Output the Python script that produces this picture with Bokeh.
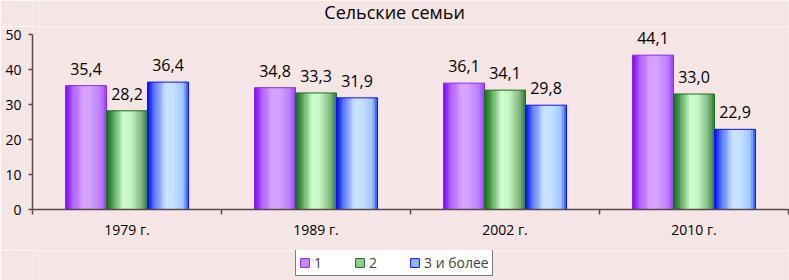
from bokeh.plotting import figure
from bokeh.layouts import column
from bokeh.models import (ColumnDataSource, Range1d, FixedTicker, LinearAxis,
                          Legend, LegendItem, Label)
from bokeh.core.properties import value
from bokeh.embed import file_html
from bokeh.resources import INLINE

# ---- data ----
title_text = "Сельские семьи"
categories = ["1979 г.", "1989 г.", "2002 г.", "2010 г."]
series_names = ["1", "2", "3 и более"]
s1 = [35.4, 34.8, 36.1, 44.1]
s2 = [28.2, 33.3, 34.1, 33.0]
s3 = [36.4, 31.9, 29.8, 22.9]
y_ticks = [0, 10, 20, 30, 40, 50]

# ---- styling ----
FONT = "Open Sans"
BG = "#f6e5e5"
AXIS = "#5a4848"
gradients = [
    [(0.0, "#7a00ff"), (0.18, "#ad5cff"), (0.45, "#d6a3ff"), (0.62, "#d2a0ff"), (0.88, "#b877ff"), (1.0, "#9a3cff")],
    [(0.0, "#0d6b0d"), (0.15, "#4a994a"), (0.42, "#ccffcc"), (0.6, "#c4f5c4"), (0.85, "#80b880"), (1.0, "#2f7f2f")],
    [(0.0, "#0000ff"), (0.15, "#4a6aff"), (0.45, "#c8e4ff"), (0.65, "#c2e0ff"), (0.88, "#9cc4ff"), (1.0, "#2a48ff")],
]
edges = ["#8a2be2", "#1a6e1a", "#1010ff"]
mids = ["#c488ff", "#90d090", "#90b8ff"]


def hex2rgb(h):
    h = h.lstrip("#")
    return tuple(int(h[i:i + 2], 16) for i in (0, 2, 4))


def interp(stops, t):
    for (p0, c0), (p1, c1) in zip(stops[:-1], stops[1:]):
        if p0 <= t <= p1:
            f = (t - p0) / (p1 - p0) if p1 > p0 else 0
            a, b = hex2rgb(c0), hex2rgb(c1)
            r = [round(a[i] + (b[i] - a[i]) * f) for i in range(3)]
            return "#%02x%02x%02x" % tuple(r)
    return stops[-1][1]


def bare(fig):
    fig.background_fill_color = BG
    fig.border_fill_color = BG
    fig.outline_line_color = None
    fig.grid.visible = False


BW = 0.217
N = 18
offsets = [-BW, 0.0, BW]
series = [s1, s2, s3]
W = 789
TOP_H, LEG_H, TOTAL_H = 26, 30, 280
PX_PER_UNIT = 3.5
MAIN_H = TOTAL_H - TOP_H - LEG_H
BOTTOM = 41
y_max = (MAIN_H - BOTTOM) / PX_PER_UNIT

# ---- title strip ----
tf = figure(width=W, height=TOP_H, output_backend="svg", toolbar_location=None,
            x_range=Range1d(0, 1), y_range=Range1d(0, 1),
            x_axis_type=None, y_axis_type=None,
            min_border_left=0, min_border_right=0, min_border_top=0, min_border_bottom=0)
bare(tf)
tf.add_layout(Label(x=0.479, y=0.54, text=title_text, text_align="center",
                    text_baseline="middle", text_font=FONT, text_font_size="18px",
                    text_color="black"))

# ---- main chart ----
p = figure(width=W, height=MAIN_H, output_backend="svg", toolbar_location=None,
           x_range=Range1d(0, 4), y_range=Range1d(0, y_max),
           x_axis_type=None, y_axis_type=None,
           min_border_left=32, min_border_right=1, min_border_top=0,
           min_border_bottom=BOTTOM)
bare(p)

# gradient strips
sx, stop, scol = [], [], []
for si, vals in enumerate(series):
    for ci, v in enumerate(vals):
        center = ci + 0.5 + offsets[si]
        for k in range(N):
            t = (k + 0.5) / N
            sx.append(center - BW / 2 + (k + 0.5) * BW / N)
            stop.append(v)
            scol.append(interp(gradients[si], t))
strip_src = ColumnDataSource(dict(x=sx, top=stop, color=scol))
p.vbar(x="x", top="top", width=BW / N + 0.002, bottom=0, source=strip_src,
       fill_color="color", line_color=None)

# outlines + value labels
for si, vals in enumerate(series):
    xs = [ci + 0.5 + offsets[si] for ci in range(len(vals))]
    src = ColumnDataSource(dict(x=xs, top=vals,
                                label=[f"{v:.1f}".replace(".", ",") for v in vals]))
    p.vbar(x="x", top="top", width=BW, bottom=0, source=src,
           fill_color=None, line_color=edges[si], line_width=1)
    p.text(x="x", y="top", text="label", source=src, text_align="center",
           text_baseline="middle", y_offset=-17, text_font=value(FONT),
           text_font_size="16px", text_color="black")

# y axis
yax = LinearAxis(ticker=FixedTicker(ticks=y_ticks), bounds=(0, 50))
yax.axis_line_color = AXIS
yax.axis_line_width = 1.5
yax.major_tick_line_color = AXIS
yax.major_tick_line_width = 1.5
yax.major_tick_in = 0
yax.major_tick_out = 4
yax.minor_tick_line_color = None
yax.major_label_standoff = 7
yax.major_label_text_font = FONT
yax.major_label_text_font_size = "14px"
yax.major_label_text_color = "black"
p.add_layout(yax, "left")

# x axis: labels at category centers, ticks (minor) at boundaries
centers = [i + 0.5 for i in range(len(categories))]
bounds = [i for i in range(len(categories) + 1)]
xax = LinearAxis(ticker=FixedTicker(ticks=centers, minor_ticks=bounds),
                 major_label_overrides={c: lab for c, lab in zip(centers, categories)})
xax.axis_line_color = AXIS
xax.axis_line_width = 1.5
xax.major_tick_line_color = None
xax.major_tick_in = 0
xax.major_tick_out = 0
xax.minor_tick_line_color = AXIS
xax.minor_tick_line_width = 1.5
xax.minor_tick_in = 0
xax.minor_tick_out = 5
xax.major_label_standoff = 5
xax.major_label_text_font = FONT
xax.major_label_text_font_size = "14px"
xax.major_label_text_color = "black"
p.add_layout(xax, "below")

# ---- legend strip ----
lg = figure(width=W, height=LEG_H, output_backend="svg", toolbar_location=None,
            x_range=Range1d(0, 1), y_range=Range1d(0, 1),
            x_axis_type=None, y_axis_type=None,
            min_border_left=0, min_border_right=0, min_border_top=0,
            min_border_bottom=0)
bare(lg)
items = []
for si, name in enumerate(series_names):
    r = lg.vbar(x=[0.5], top=[0], width=0.0, fill_color=mids[si], line_color=edges[si])
    items.append(LegendItem(label=name, renderers=[r]))
legend = Legend(items=items, orientation="horizontal", location=(263, 4),
                border_line_color="black", border_line_width=1.5,
                background_fill_color="white", background_fill_alpha=1,
                label_text_font=FONT, label_text_font_size="14px",
                glyph_width=11, glyph_height=11, spacing=8, padding=3,
                label_standoff=4, label_width=32, margin=0)
lg.add_layout(legend, "center")

layout = column(tf, p, lg, spacing=0)
open("out.html", "w").write(file_html(layout, INLINE))
